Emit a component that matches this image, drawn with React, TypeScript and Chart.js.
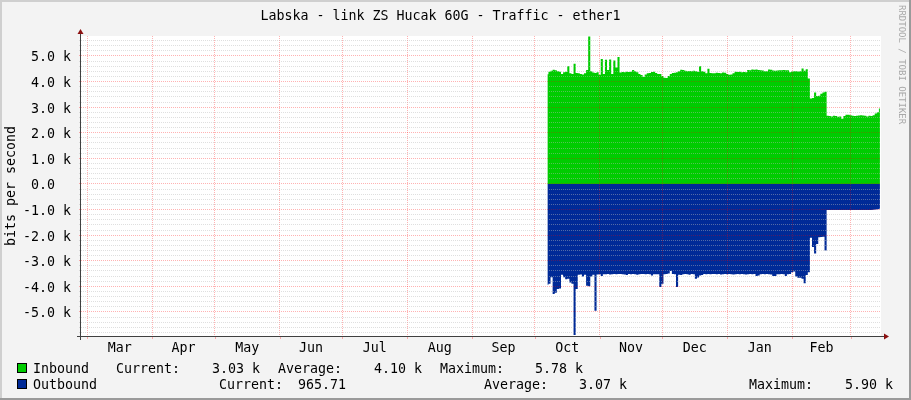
import React, { useEffect, useRef } from 'react';
import { Chart, registerables } from 'chart.js';

Chart.register(...registerables);

// ---------- DATA ----------
const chartTitle = 'Labska - link ZS Hucak 60G - Traffic - ether1';
const yAxisTitle = 'bits per second';
const watermark = 'RRDTOOL / TOBI OETIKER';

// days counted from 1 March (day 0)
const firstDataDay = 220;

// inbound, kbit/s, one value per day from day 220
const inbound = [
  4.29, 4.38, 4.42, 4.46, 4.44, 4.40, 4.38, 4.30, 4.36, 4.38,
  4.60, 4.32, 4.30, 4.70, 4.33, 4.32, 4.30, 4.28, 4.32, 4.45,
  5.76, 4.40, 4.35, 4.33, 4.36, 4.27, 4.88, 4.30, 4.85, 4.45,
  4.86, 4.30, 4.82, 4.55, 4.96, 4.35, 4.37, 4.36, 4.38, 4.37,
  4.38, 4.45, 4.40, 4.36, 4.30, 4.26, 4.18, 4.28, 4.32, 4.33,
  4.37, 4.38, 4.33, 4.30, 4.30, 4.22, 4.15, 4.14, 4.22, 4.30,
  4.33, 4.34, 4.36, 4.40, 4.46, 4.45, 4.42, 4.40, 4.41, 4.40,
  4.42, 4.40, 4.38, 4.60, 4.40, 4.38, 4.32, 4.50, 4.33, 4.32,
  4.32, 4.34, 4.33, 4.32, 4.35, 4.34, 4.30, 4.27, 4.28, 4.32,
  4.38, 4.37, 4.38, 4.36, 4.37, 4.36, 4.45, 4.44, 4.47, 4.46,
  4.47, 4.45, 4.44, 4.43, 4.40, 4.40, 4.47, 4.46, 4.43, 4.42,
  4.43, 4.44, 4.44, 4.45, 4.44, 4.44, 4.36, 4.39, 4.40, 4.40,
  4.39, 4.40, 4.51, 4.42, 4.48, 4.12, 3.34, 3.36, 3.57, 3.44,
  3.45, 3.52, 3.57, 3.60, 2.66, 2.65, 2.64, 2.66, 2.65, 2.63,
  2.64, 2.55, 2.65, 2.70, 2.70, 2.68, 2.66, 2.65, 2.66, 2.67,
  2.68, 2.67, 2.66, 2.64, 2.66, 2.65, 2.68, 2.75, 2.80, 2.95,
];

// outbound, kbit/s (drawn negative), one value per day from day 220
const outbound = [
  -3.94, -3.90, -3.64, -4.30, -4.25, -4.10, -4.08, -3.55, -3.64, -3.72,
  -3.70, -3.85, -3.90, -5.90, -4.10, -3.55, -3.54, -3.62, -3.55, -3.98,
  -4.00, -3.62, -3.55, -4.95, -3.54, -3.53, -3.60, -3.53, -3.53, -3.52,
  -3.54, -3.53, -3.52, -3.53, -3.52, -3.52, -3.53, -3.54, -3.56, -3.52,
  -3.53, -3.52, -3.53, -3.55, -3.53, -3.52, -3.52, -3.53, -3.52, -3.53,
  -3.58, -3.53, -3.53, -3.53, -4.03, -3.90, -3.53, -3.52, -3.50, -3.40,
  -3.52, -3.53, -4.03, -3.55, -3.56, -3.53, -3.52, -3.53, -3.55, -3.52,
  -3.53, -3.70, -3.65, -3.58, -3.56, -3.52, -3.53, -3.52, -3.53, -3.52,
  -3.52, -3.53, -3.52, -3.54, -3.53, -3.52, -3.53, -3.52, -3.53, -3.54,
  -3.53, -3.52, -3.53, -3.52, -3.53, -3.54, -3.53, -3.52, -3.53, -3.52,
  -3.60, -3.58, -3.53, -3.52, -3.53, -3.52, -3.53, -3.54, -3.60, -3.60,
  -3.53, -3.53, -3.52, -3.53, -3.60, -3.53, -3.52, -3.45, -3.42, -3.62,
  -3.66, -3.66, -3.70, -3.88, -3.56, -3.45, -2.10, -2.46, -2.72, -2.35,
  -2.08, -2.07, -2.06, -2.60, -1.02, -1.02, -1.02, -1.02, -1.02, -1.02,
  -1.02, -1.02, -1.02, -1.02, -1.02, -1.02, -1.02, -1.02, -1.02, -1.02,
  -1.02, -1.02, -1.02, -1.02, -1.02, -1.02, -1.01, -1.00, -0.99, -0.97,
];

// month boundaries (day numbers) and labels placed between them
const monthBoundaries = [0, 31, 61, 92, 122, 153, 184, 214, 245, 275, 306, 337, 365];
const monthLabels = ['Mar', 'Apr', 'May', 'Jun', 'Jul', 'Aug', 'Sep', 'Oct', 'Nov', 'Dec', 'Jan', 'Feb'];

const yMajorValues = [-5, -4, -3, -2, -1, 0, 1, 2, 3, 4, 5];
const yMajorLabels = ['-5.0 k', '-4.0 k', '-3.0 k', '-2.0 k', '-1.0 k', '0.0  ', '1.0 k', '2.0 k', '3.0 k', '4.0 k', '5.0 k'];
const yMinorStep = 0.2;

const legendNames = ['Inbound', 'Outbound'];
const legendCurrent = ['3.03 k', '965.71'];
const legendAverage = ['4.10 k', '3.07 k'];
const legendMaximum = ['5.78 k', '5.90 k'];

// ---------- LAYOUT / STYLE ----------
const W = 911;
const H = 400;
const X_MIN = -3.0;
const X_MAX = 379.5;
const Y_MIN = -5.94;
const Y_MAX = 5.78;
const FONT = '"DejaVu Sans Mono", "Liberation Mono", monospace';
const FS = 13.3;

const BACK = '#F3F3F3';
const SHADEA = '#CFCFCF';
const SHADEB = '#9A9A9A';
const GRID = 'rgba(185,185,185,0.45)';
const MGRID = 'rgba(255,0,0,0.30)';
const AXIS = '#404040';
const ARROW = '#8B1010';
const GREEN = '#00CC00';
const BLUE = '#002A97';

const legendLayout = [
  { y: 370, box: 363, name: 33, cur: [116, 212], avg: [278, 374], max: [440, 535] },
  { y: 386, box: 379, name: 33, cur: [219, 298], avg: [484, 579], max: [749, 845] },
];

const isMajor = (v: number) => Math.abs(Math.round(v) - v) < 1e-6;

const rrdPlugin = {
  id: 'rrdFrame',
  beforeDraw(chart: any) {
    const { ctx, chartArea: a } = chart;
    ctx.save();
    ctx.fillStyle = BACK;
    ctx.fillRect(0, 0, W, H);
    ctx.fillStyle = SHADEA;
    ctx.fillRect(0, 0, W, 2);
    ctx.fillRect(0, 0, 2, H);
    ctx.fillStyle = SHADEB;
    ctx.fillRect(0, H - 2, W, 2);
    ctx.fillRect(W - 2, 0, 2, H);
    ctx.fillStyle = '#FFFFFF';
    ctx.fillRect(a.left, a.top, a.right - a.left, a.bottom - a.top);
    ctx.restore();
  },
  afterDraw(chart: any) {
    const { ctx, chartArea: a } = chart;
    const xs = chart.scales.x;
    ctx.save();
    // x tick marks at month boundaries
    ctx.strokeStyle = MGRID;
    ctx.lineWidth = 1;
    for (const b of monthBoundaries) {
      const px = Math.round(xs.getPixelForValue(b)) + 0.5;
      ctx.beginPath();
      ctx.moveTo(px, a.bottom);
      ctx.lineTo(px, a.bottom + 3);
      ctx.stroke();
    }
    // axes
    const x0 = a.left - 0.5;
    const y0 = a.bottom + 0.5;
    ctx.strokeStyle = AXIS;
    ctx.beginPath();
    ctx.moveTo(a.left - 4, y0);
    ctx.lineTo(a.right + 4, y0);
    ctx.moveTo(x0, a.bottom + 4);
    ctx.lineTo(x0, a.top - 4);
    ctx.stroke();
    // arrows
    ctx.fillStyle = ARROW;
    ctx.beginPath();
    ctx.moveTo(a.right + 3, y0 - 3);
    ctx.lineTo(a.right + 8, y0);
    ctx.lineTo(a.right + 3, y0 + 3);
    ctx.closePath();
    ctx.fill();
    ctx.beginPath();
    ctx.moveTo(x0 - 3, a.top - 2);
    ctx.lineTo(x0, a.top - 7);
    ctx.lineTo(x0 + 3, a.top - 2);
    ctx.closePath();
    ctx.fill();

    // legend
    ctx.font = `${FS}px ${FONT}`;
    ctx.textBaseline = 'middle';
    ctx.textAlign = 'left';
    const colors = [GREEN, BLUE];
    legendLayout.forEach((L, i) => {
      ctx.fillStyle = colors[i];
      ctx.fillRect(17, L.box, 10, 10);
      ctx.strokeStyle = '#000000';
      ctx.strokeRect(17.5, L.box + 0.5, 9, 9);
      ctx.fillStyle = '#000000';
      ctx.fillText(legendNames[i], L.name, L.y);
      ctx.fillText('Current:', L.cur[0], L.y);
      ctx.fillText(legendCurrent[i], L.cur[1], L.y);
      ctx.fillText('Average:', L.avg[0], L.y);
      ctx.fillText(legendAverage[i], L.avg[1], L.y);
      ctx.fillText('Maximum:', L.max[0], L.y);
      ctx.fillText(legendMaximum[i], L.max[1], L.y);
    });

    // watermark
    ctx.save();
    ctx.translate(901, 5);
    ctx.rotate(Math.PI / 2);
    ctx.font = `9px ${FONT}`;
    ctx.fillStyle = '#A8A8A8';
    ctx.textBaseline = 'middle';
    ctx.fillText(watermark, 0, 0);
    ctx.restore();
    ctx.restore();
  },
};

export default function App() {
  const ref = useRef<HTMLCanvasElement | null>(null);

  useEffect(() => {
    document.body.style.margin = '0';
    const canvas = ref.current;
    if (!canvas) return;

    const inData = inbound.map((v, i) => ({ x: firstDataDay + i, y: v }));
    const outData = outbound.map((v, i) => ({ x: firstDataDay + i, y: v }));

    const chart = new Chart(canvas, {
      type: 'line',
      data: {
        datasets: [
          {
            label: 'Inbound',
            data: inData,
            borderWidth: 0,
            borderColor: GREEN,
            backgroundColor: GREEN,
            fill: 'origin',
            pointRadius: 0,
            stepped: 'middle',
          },
          {
            label: 'Outbound',
            data: outData,
            borderWidth: 0,
            borderColor: BLUE,
            backgroundColor: BLUE,
            fill: 'origin',
            pointRadius: 0,
            stepped: 'middle',
          },
        ],
      },
      options: {
        responsive: false,
        animation: false,
        devicePixelRatio: 1,
        layout: { padding: { left: 0, right: W - 881, top: 0, bottom: 0 } },
        plugins: {
          legend: { display: false },
          tooltip: { enabled: false },
          title: {
            display: true,
            text: chartTitle,
            color: '#000000',
            font: { family: FONT, size: FS, weight: 'normal', lineHeight: '16px' },
            padding: { top: 8.5, bottom: 11.5 },
          },
        },
        scales: {
          x: {
            type: 'linear',
            min: X_MIN,
            max: X_MAX,
            afterBuildTicks: (scale: any) => {
              const t: any[] = [];
              for (let i = 0; i < monthBoundaries.length; i++) {
                t.push({ value: monthBoundaries[i] });
                if (i < monthLabels.length) {
                  t.push({ value: (monthBoundaries[i] + monthBoundaries[i + 1]) / 2 });
                }
              }
              scale.ticks = t;
            },
            afterFit: (scale: any) => {
              scale.height = H - 336;
            },
            grid: {
              z: 1,
              drawTicks: false,
              lineWidth: 1,
              color: (c: any) => (c.index % 2 === 0 ? MGRID : 'rgba(0,0,0,0)'),
              borderDash: [1, 1],
            } as any,
            border: { display: false, dash: [1, 1] },
            ticks: {
              autoSkip: false,
              maxRotation: 0,
              padding: 5,
              color: '#000000',
              font: { family: FONT, size: FS, lineHeight: '16px' },
              callback: (_v: any, i: number) => (i % 2 === 1 ? monthLabels[(i - 1) / 2] : ''),
            },
          },
          y: {
            type: 'linear',
            min: Y_MIN,
            max: Y_MAX,
            afterBuildTicks: (scale: any) => {
              const t: any[] = [];
              const lo = Math.ceil(Y_MIN / yMinorStep);
              const hi = Math.floor(Y_MAX / yMinorStep);
              for (let k = lo; k <= hi; k++) t.push({ value: Math.round(k * yMinorStep * 10) / 10 });
              scale.ticks = t;
            },
            afterFit: (scale: any) => {
              scale.width = 81;
            },
            title: {
              display: true,
              text: yAxisTitle,
              color: '#000000',
              font: { family: FONT, size: FS, lineHeight: '16px' },
              padding: { top: 4, bottom: 0 },
            },
            grid: {
              z: 1,
              drawTicks: true,
              tickLength: 2,
              lineWidth: 1,
              color: (c: any) => (c.tick && isMajor(c.tick.value) ? MGRID : GRID),
              borderDash: [1, 1],
            } as any,
            border: { display: false, dash: [1, 1] },
            ticks: {
              autoSkip: false,
              padding: 8,
              labelOffset: 2,
              color: '#000000',
              font: { family: FONT, size: FS, lineHeight: '16px' },
              callback: (v: any) => {
                const idx = yMajorValues.findIndex((m) => Math.abs(m - Number(v)) < 1e-6);
                return idx >= 0 ? yMajorLabels[idx] : '';
              },
            },
          },
        },
      },
      plugins: [rrdPlugin],
    } as any);

    return () => chart.destroy();
  }, []);

  return <canvas ref={ref} width={W} height={H} style={{ display: 'block', width: W, height: H }} />;
}
